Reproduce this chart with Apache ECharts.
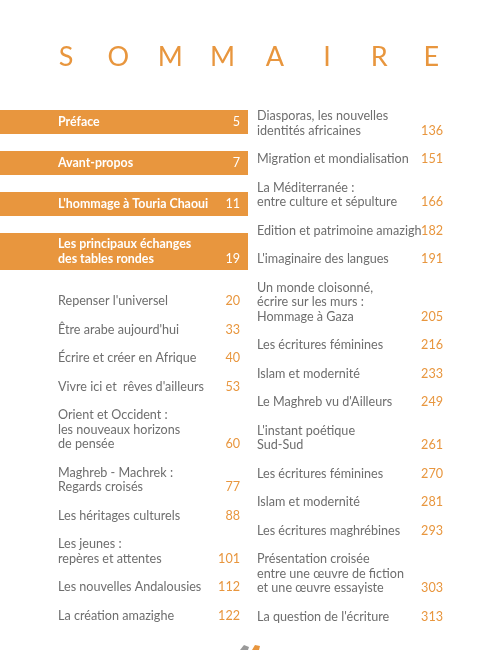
<!DOCTYPE html>
<html>
<head>
<meta charset="utf-8">
<script src="https://cdn.jsdelivr.net/npm/echarts@6/dist/echarts.min.js"></script>
<style>
html,body{margin:0;padding:0;background:#fff;}
#c{width:500px;height:650px;}
</style>
</head>
<body>
<div id="c"></div>
<script>
// ---- data ----
const titleLetters = ['S','O','M','M','A','I','R','E'];
const sectionTitles = ['Préface', 'Avant-propos', "L'hommage à Touria Chaoui", 'Les principaux échanges\ndes tables rondes'];
const sectionPages = [5, 7, 11, 19];
const leftTitles = [
  "Repenser l'universel",
  "Être arabe aujourd'hui",
  "Écrire et créer en Afrique",
  "Vivre ici et  rêves d'ailleurs",
  "Orient et Occident :\nles nouveaux horizons\nde pensée",
  "Maghreb - Machrek :\nRegards croisés",
  "Les héritages culturels",
  "Les jeunes :\nrepères et attentes",
  "Les nouvelles Andalousies",
  "La création amazighe"
];
const leftPages = [20, 33, 40, 53, 60, 77, 88, 101, 112, 122];
const rightTitles = [
  "Diasporas, les nouvelles\nidentités africaines",
  "Migration et mondialisation",
  "La Méditerranée :\nentre culture et sépulture",
  "Edition et patrimoine amazigh",
  "L'imaginaire des langues",
  "Un monde cloisonné,\nécrire sur les murs :\nHommage à Gaza",
  "Les écritures féminines",
  "Islam et modernité",
  "Le Maghreb vu d'Ailleurs",
  "L'instant poétique\nSud-Sud",
  "Les écritures féminines",
  "Islam et modernité",
  "Les écritures maghrébines",
  "Présentation croisée\nentre une œuvre de fiction\net une œuvre essayiste",
  "La question de l'écriture"
];
const rightPages = [136, 151, 166, 182, 191, 205, 216, 233, 249, 261, 270, 281, 293, 303, 313];

// ---- style ----
const ORANGE = '#E8963E';
const GRAY = '#6e6e6e';
const FONT = 'Lato, "Open Sans", sans-serif';
const LH = 14.5;      // line height
const GAP = 28.5;     // distance from last line of one entry to first line of next

const chart = echarts.init(document.getElementById('c'), null, {renderer: 'canvas'});
const els = [];

// title
titleLetters.forEach((ch, i) => {
  els.push({type: 'text', x: 66 + i * 52.2, y: 57,
    style: {text: ch, font: '27px ' + FONT, fill: ORANGE, textAlign: 'center', textVerticalAlign: 'middle'}});
});

// section bars
let barTop = 110;
sectionTitles.forEach((t, i) => {
  const lines = t.split('\n');
  const h = lines.length === 1 ? 24 : 37;
  els.push({type: 'rect', shape: {x: 0, y: barTop, width: 248, height: h}, style: {fill: ORANGE}});
  const y0 = barTop + h / 2 - (lines.length - 1) * LH / 2;
  lines.forEach((ln, k) => {
    els.push({type: 'text', x: 58, y: y0 + k * LH,
      style: {text: ln, font: 'bold 12.4px ' + FONT, fill: '#fff', textVerticalAlign: 'middle'}});
  });
  els.push({type: 'text', x: 240, y: y0 + (lines.length - 1) * LH,
    style: {text: String(sectionPages[i]), font: '12.6px ' + FONT, fill: '#fff', textAlign: 'right', textVerticalAlign: 'middle'}});
  barTop += h + 17;
});

function column(titles, pages, xText, xNum, yStart) {
  let y = yStart;
  titles.forEach((t, i) => {
    const lines = t.split('\n');
    lines.forEach((ln, k) => {
      els.push({type: 'text', x: xText, y: y + k * LH,
        style: {text: ln, font: '12.6px ' + FONT, fill: GRAY, textVerticalAlign: 'middle'}});
    });
    const yl = y + (lines.length - 1) * LH;
    els.push({type: 'text', x: xNum, y: yl,
      style: {text: String(pages[i]), font: '12.6px ' + FONT, fill: ORANGE, textAlign: 'right', textVerticalAlign: 'middle'}});
    y = yl + GAP;
  });
}
column(leftTitles, leftPages, 58, 240, 301);
column(rightTitles, rightPages, 257, 443, 116);

// small logo at bottom (partially cut)
els.push({type: 'polygon', shape: {points: [[240, 650], [244, 645], [249, 647], [248, 650]]}, style: {fill: '#9a9a9a'}});
els.push({type: 'polygon', shape: {points: [[252, 650], [255, 645], [260, 646], [259, 650]]}, style: {fill: ORANGE}});

chart.setOption({
  backgroundColor: '#ffffff',
  animation: false,
  graphic: {elements: els}
});
</script>
</body>
</html>
